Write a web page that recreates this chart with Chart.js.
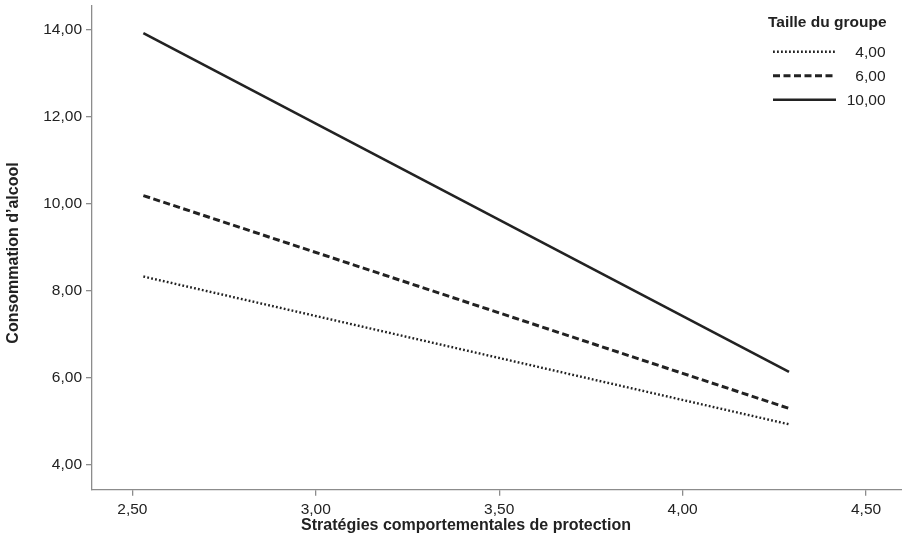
<!DOCTYPE html>
<html>
<head>
<meta charset="utf-8">
<script src="https://cdn.jsdelivr.net/npm/chart.js@4"></script>
<style>
  body { margin: 0; background: #fff; }
  #wrap { width: 902px; height: 543px; position: relative; }
</style>
</head>
<body>
<div id="wrap"><canvas id="chart"></canvas></div>
<script>
// x = Stratégies comportementales de protection, y = Consommation d'alcool
const xValues = [2.53, 4.29];
const group4 = [8.33, 4.935];
const group6 = [10.19, 5.30];
const group10 = [13.92, 6.14];

const groupLabels = ["4,00", "6,00", "10,00"];
const xTicks = [2.5, 3.0, 3.5, 4.0, 4.5];
const yTicks = [4, 6, 8, 10, 12, 14];

const FONT = "'Liberation Sans', Arial, Helvetica, sans-serif";
const INK = "#222";
const AXIS = "#8c8c8c";

function frNum(v) {
  return Number(v).toFixed(2).replace(".", ",");
}

function toPoints(ys) {
  return xValues.map((x, i) => ({ x, y: ys[i] }));
}

const styles = [
  { width: 2.4, dash: [1.8, 2.2] },
  { width: 3, dash: [7, 3.5] },
  { width: 2.6, dash: [] },
];

const datasets = [group4, group6, group10].map((ys, i) => ({
  label: groupLabels[i],
  data: toPoints(ys),
  borderColor: INK,
  borderWidth: styles[i].width,
  borderDash: styles[i].dash,
  borderCapStyle: "butt",
  pointRadius: 0,
  fill: false,
  tension: 0,
}));

// legend + axis titles drawn by hand so they sit where the reference has them
const extras = {
  id: "extras",
  afterDraw(chart) {
    const ctx = chart.ctx;
    ctx.save();
    ctx.fillStyle = INK;

    ctx.font = "bold 15.5px " + FONT;
    ctx.textAlign = "left";
    ctx.textBaseline = "alphabetic";
    ctx.fillText("Taille du groupe", 768, 26.5);

    chart.data.datasets.forEach((ds, i) => {
      const y = 51.7 + 24 * i;
      ctx.beginPath();
      ctx.strokeStyle = ds.borderColor;
      ctx.lineWidth = ds.borderWidth;
      ctx.lineCap = "butt";
      ctx.setLineDash(ds.borderDash);
      ctx.moveTo(773, y);
      ctx.lineTo(836, y);
      ctx.stroke();
      ctx.setLineDash([]);
      ctx.font = "15.5px " + FONT;
      ctx.textAlign = "right";
      ctx.textBaseline = "middle";
      ctx.fillText(ds.label, 885.5, y + 1);
    });

    ctx.font = "bold 16px " + FONT;
    ctx.textAlign = "center";
    ctx.textBaseline = "middle";
    ctx.fillText("Stratégies comportementales de protection", 466, 526);

    ctx.translate(14, 253);
    ctx.rotate(-Math.PI / 2);
    ctx.fillText("Consommation d’alcool", 0, 0);
    ctx.restore();
  },
};

new Chart(document.getElementById("chart"), {
  type: "line",
  data: { datasets },
  plugins: [extras],
  options: {
    responsive: true,
    maintainAspectRatio: false,
    animation: false,
    layout: { padding: { top: 6, right: 0, left: 0, bottom: 0 } },
    plugins: {
      legend: { display: false },
      tooltip: { enabled: false },
    },
    scales: {
      x: {
        type: "linear",
        min: 2.39,
        max: 4.598,
        afterFit: (s) => {
          s.height = 53.3;
          s.paddingLeft = 0;
          s.paddingRight = 0;
        },
        afterBuildTicks: (s) => { s.ticks = xTicks.map((v) => ({ value: v })); },
        border: { display: true, color: AXIS, width: 1.3 },
        grid: { drawOnChartArea: false, drawTicks: true, tickLength: 6, color: AXIS, lineWidth: 1.3 },
        ticks: {
          color: INK,
          font: { family: FONT, size: 15.5 },
          padding: 5,
          maxRotation: 0,
          callback: (v) => frNum(v),
        },
      },
      y: {
        type: "linear",
        min: 3.433,
        max: 14.545,
        afterFit: (s) => {
          s.width = 92;
          s.paddingTop = 0;
          s.paddingBottom = 0;
        },
        afterBuildTicks: (s) => { s.ticks = yTicks.map((v) => ({ value: v })); },
        border: { display: true, color: AXIS, width: 1.3 },
        grid: { drawOnChartArea: false, drawTicks: true, tickLength: 6, color: AXIS, lineWidth: 1.3 },
        ticks: {
          color: INK,
          font: { family: FONT, size: 15.5 },
          padding: 4,
          callback: (v) => frNum(v),
        },
      },
    },
  },
});
</script>
</body>
</html>
